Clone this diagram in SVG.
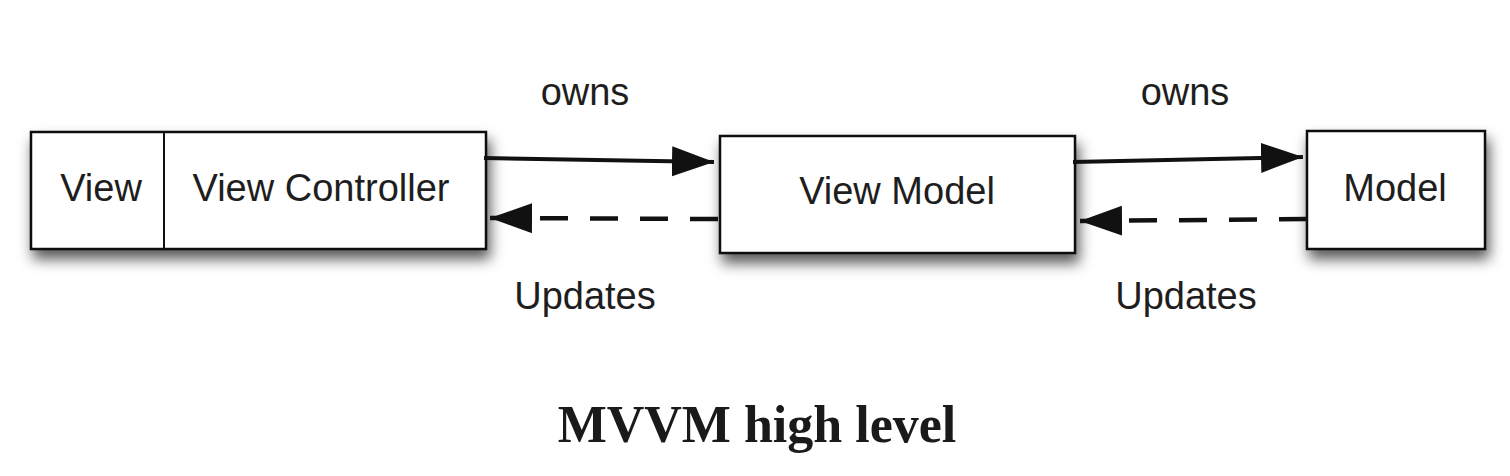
<svg xmlns="http://www.w3.org/2000/svg" width="1510" height="476" viewBox="0 0 1510 476">
<style>
.box{fill:#fff;stroke:#111;stroke-width:2.5}
.lbl{font-family:"Liberation Sans",Arial,sans-serif;font-size:38px;fill:#1e1e1e;text-anchor:middle}
.solid{fill:none;stroke:#111;stroke-width:4}
.dash{fill:none;stroke:#111;stroke-width:4.5;stroke-dasharray:28 22}
.title{font-family:"Liberation Serif","Times New Roman",serif;font-size:52px;font-weight:bold;fill:#1a1a1a;text-anchor:middle}
</style>
<defs>
<filter id="sh" x="-10%" y="-25%" width="130%" height="170%">
<feDropShadow dx="3" dy="9" stdDeviation="7" flood-color="#000" flood-opacity="0.65"/>
</filter>
<marker id="ah" markerUnits="userSpaceOnUse" markerWidth="44" markerHeight="32" refX="42" refY="15" orient="auto" viewBox="0 0 44 32">
<path d="M0,0 L42,15 L0,30 z" fill="#111"/>
</marker>
</defs>
<rect width="1510" height="476" fill="#fff"/>
<g id="view-viewcontroller">
<rect class="box" x="31" y="132" width="455" height="117" filter="url(#sh)"/>
<line x1="164" y1="132" x2="164" y2="249" stroke="#111" stroke-width="2"/>
<text class="lbl" x="101" y="201">View</text>
<text class="lbl" x="321" y="201">View Controller</text>
</g>
<g id="viewmodel">
<rect class="box" x="720" y="136" width="355" height="117" filter="url(#sh)"/>
<text class="lbl" x="897" y="204">View Model</text>
</g>
<g id="model">
<rect class="box" x="1307" y="131" width="178" height="118" filter="url(#sh)"/>
<text class="lbl" x="1395" y="201">Model</text>
</g>
<g id="connectors">
<path class="solid" d="M484,158 L714,162" marker-end="url(#ah)"/>
<path class="dash" d="M718,219 L490,218" marker-end="url(#ah)"/>
<path class="solid" d="M1073,162 L1303,157" marker-end="url(#ah)"/>
<path class="dash" d="M1307,219 L1080,221" marker-end="url(#ah)"/>
<text class="lbl" x="585" y="105">owns</text>
<text class="lbl" x="1185" y="105">owns</text>
<text class="lbl" x="585" y="309">Updates</text>
<text class="lbl" x="1186" y="309">Updates</text>
</g>
<text class="title" x="757" y="442">MVVM high level</text>
</svg>
